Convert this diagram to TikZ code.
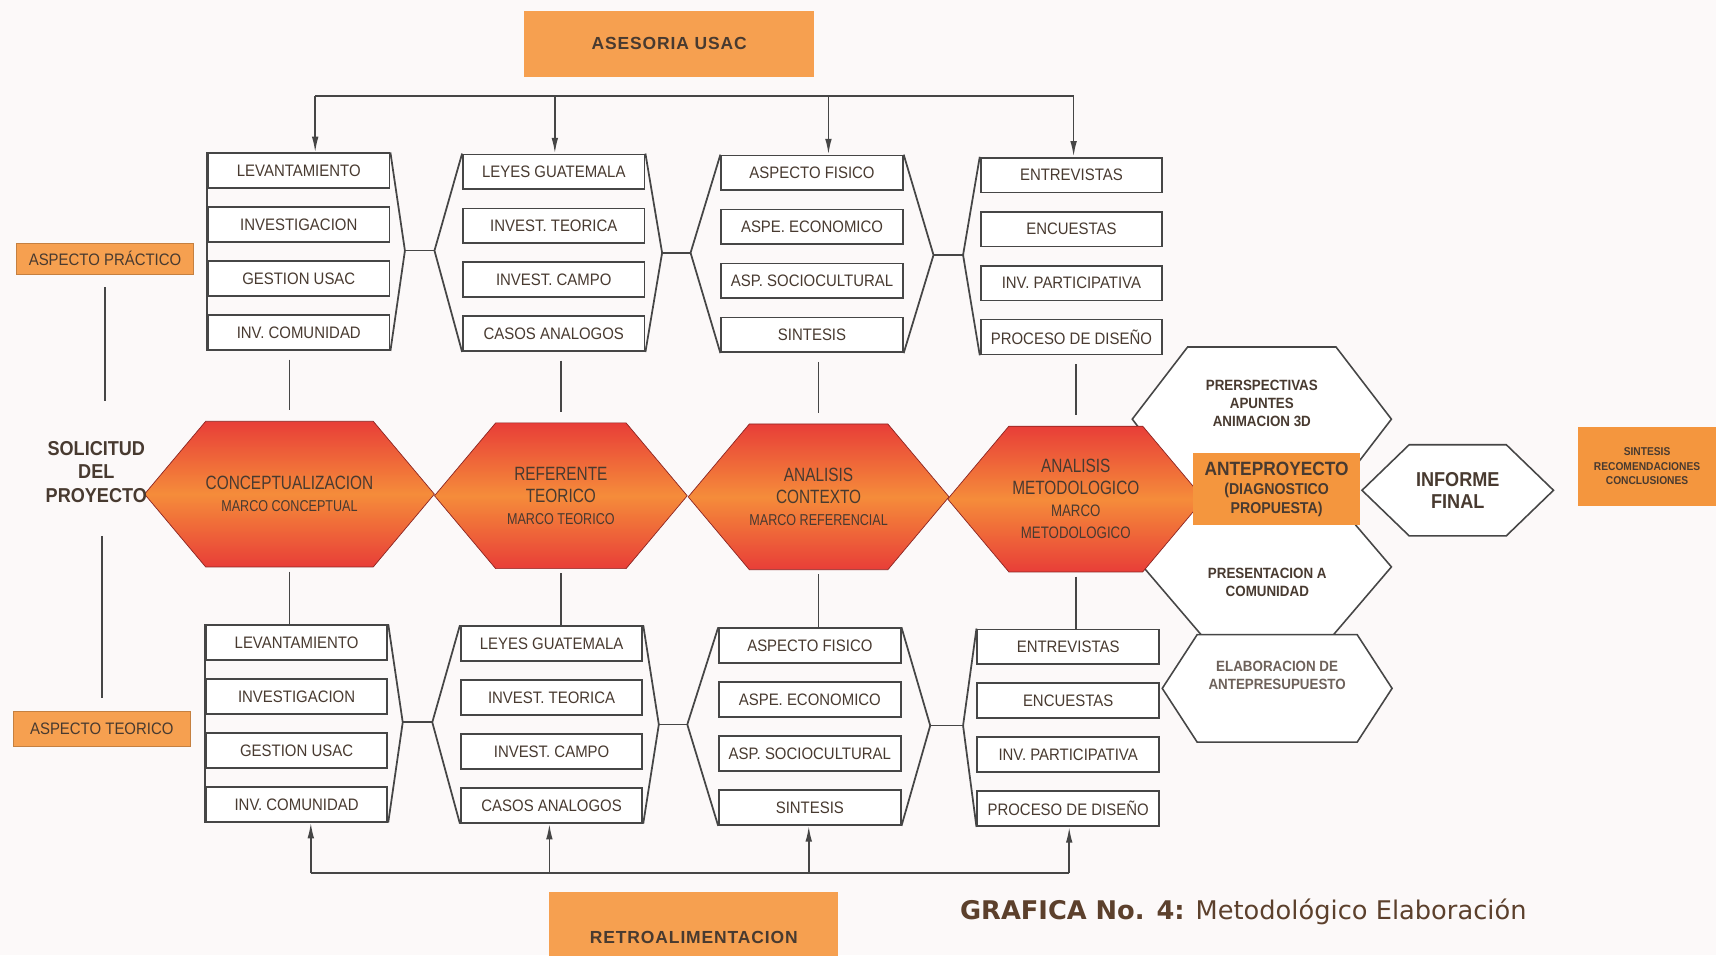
\documentclass[tikz,border=0pt]{standalone}
\usepackage{fontspec}
\setmainfont{Liberation Sans}
\newfontfamily\boxfont[FakeStretch=0.9]{Liberation Sans}
\newfontfamily\hexfont[FakeStretch=0.8]{Liberation Sans}
\newfontfamily\capfont{DejaVu Sans}
\usetikzlibrary{positioning,shapes.symbols,arrows.meta}

\definecolor{bgcol}{RGB}{252,249,249}
\definecolor{linegray}{RGB}{70,70,70}
\definecolor{txt}{RGB}{72,58,48}
\definecolor{captxt}{RGB}{92,64,44}
\definecolor{orangebox}{RGB}{246,160,80}
\definecolor{orangedeep}{RGB}{244,150,62}
\definecolor{hexred}{RGB}{232,62,56}
\definecolor{hexorange}{RGB}{245,140,58}

\begin{document}
\begin{tikzpicture}[x=0.022cm, y=-0.022cm, node distance=1.085cm,
  cell/.style = {draw=linegray, fill=white, line width=1pt, minimum width=3.65cm, minimum height=0.7cm, inner sep=0pt, text=txt, font=\boxfont\fontsize{9.5}{11}\selectfont},
  hexa/.style = {shape=signal, signal to=east and west, signal pointer angle=100, minimum height=2.93cm, inner sep=0pt, top color=hexred, bottom color=hexred, middle color=hexorange, draw=hexred!60!black, line width=0.4pt, align=center, text=txt, font=\hexfont\fontsize{11}{12.5}\selectfont},
  whex/.style = {shape=signal, signal to=east and west, draw=linegray, fill=white, line width=0.9pt, inner sep=0pt},
  wtext/.style = {align=center, text=txt, inner sep=0pt, font=\boxfont\bfseries\fontsize{8.5}{10.5}\selectfont},
  obox/.style = {fill=orangebox, inner sep=0pt, text=txt},
  wire/.style = {draw=linegray, line width=1pt},
  arr/.style = {-{Latex[length=9pt,width=3.8pt]}}]

\fill[bgcol] (0,0) rectangle (1568,873);
\useasboundingbox (0,0) rectangle (1568,873);

% asesoria
\node[obox, minimum width=5.83cm, minimum height=1.32cm, font=\bfseries\fontsize{10}{12}\selectfont] (ase) at (611.5,40) {\addfontfeature{LetterSpace=5}ASESORIA USAC};
\coordinate (a1) at (288,88);
\coordinate (a2) at (507,88);
\coordinate (a3) at (757,88);
\coordinate (a4) at (981,88);

% upper columns
\node[cell] (t11) at (273,156) {LEVANTAMIENTO};
\node[cell] (t12) [below of=t11] {INVESTIGACION};
\node[cell] (t13) [below of=t12] {GESTION USAC};
\node[cell] (t14) [below of=t13] {INV. COMUNIDAD};
\node[cell] (t21) at (506,157) {LEYES GUATEMALA};
\node[cell] (t22) [below of=t21] {INVEST. TEORICA};
\node[cell] (t23) [below of=t22] {INVEST. CAMPO};
\node[cell] (t24) [below of=t23] {CASOS ANALOGOS};
\node[cell] (t31) at (742,158) {ASPECTO FISICO};
\node[cell] (t32) [below of=t31] {ASPE. ECONOMICO};
\node[cell] (t33) [below of=t32] {ASP. SOCIOCULTURAL};
\node[cell] (t34) [below of=t33] {SINTESIS};
\node[cell] (t41) at (979,160) {ENTREVISTAS};
\node[cell] (t42) [below of=t41] {ENCUESTAS};
\node[cell] (t43) [below of=t42] {INV. PARTICIPATIVA};
\node[cell] (t44) [below of=t43] {PROCESO DE DISEÑO};

% lower columns
\node[cell] (b11) at (271,587) {LEVANTAMIENTO};
\node[cell] (b12) [below of=b11] {INVESTIGACION};
\node[cell] (b13) [below of=b12] {GESTION USAC};
\node[cell] (b14) [below of=b13] {INV. COMUNIDAD};
\node[cell] (b21) at (504,588) {LEYES GUATEMALA};
\node[cell] (b22) [below of=b21] {INVEST. TEORICA};
\node[cell] (b23) [below of=b22] {INVEST. CAMPO};
\node[cell] (b24) [below of=b23] {CASOS ANALOGOS};
\node[cell] (b31) at (740,590) {ASPECTO FISICO};
\node[cell] (b32) [below of=b31] {ASPE. ECONOMICO};
\node[cell] (b33) [below of=b32] {ASP. SOCIOCULTURAL};
\node[cell] (b34) [below of=b33] {SINTESIS};
\node[cell] (b41) at (976,591) {ENTREVISTAS};
\node[cell] (b42) [below of=b41] {ENCUESTAS};
\node[cell] (b43) [below of=b42] {INV. PARTICIPATIVA};
\node[cell] (b44) [below of=b43] {PROCESO DE DISEÑO};

% side hexagons
\node[whex, signal pointer angle=105, minimum width=5.21cm, minimum height=2.9cm,
  label={[wtext, yshift=9pt]center:PRERSPECTIVAS\\APUNTES\\ANIMACION 3D}] (pers) at (1153,383) {};
\node[whex, signal pointer angle=99, minimum width=4.99cm, minimum height=2.73cm,
  label={[wtext, yshift=-8.7pt]center:PRESENTACION A\\COMUNIDAD}] (pres) at (1158,518) {};
\node[whex, signal pointer angle=114, minimum width=4.62cm, minimum height=2.16cm,
  label={[wtext, yshift=7.5pt, text=txt!80]center:ELABORACION DE\\ANTEPRESUPUESTO}] (elab) at (1167,629) {};

% main hexagons
\node[hexa, minimum width=5.61cm] (h1) at (264.5,451.5) {CONCEPTUALIZACION\\{\fontsize{9}{11}\selectfont MARCO CONCEPTUAL}};
\node[hexa, minimum width=5.08cm] (h2) at (512.5,453) {REFERENTE\\TEORICO\\{\fontsize{9}{11}\selectfont MARCO TEORICO}};
\node[hexa, minimum width=5.19cm] (h3) at (748,454) {ANALISIS\\CONTEXTO\\{\fontsize{9}{11}\selectfont MARCO REFERENCIAL}};
\node[hexa, minimum width=5.15cm] (h4) at (983,456) {ANALISIS\\METODOLOGICO\\{\fontsize{9.5}{11}\selectfont MARCO}\\{\fontsize{9.5}{11}\selectfont METODOLOGICO}};

\node[obox, fill=orangedeep, minimum width=3.37cm, minimum height=1.45cm, align=center, font=\boxfont\bfseries\fontsize{9}{11}\selectfont] (ante) at (1166.5,447) {{\fontsize{11}{13}\selectfont ANTEPROYECTO}\\(DIAGNOSTICO\\PROPUESTA)};
\node[whex, signal pointer angle=88, minimum width=3.85cm, minimum height=1.83cm, align=center, text=txt, font=\boxfont\bfseries\fontsize{11.5}{12.5}\selectfont] (inf) at (1332,448) {INFORME\\FINAL};
\node[obox, fill=orangedeep, minimum width=2.77cm, minimum height=1.58cm, align=center, font=\boxfont\bfseries\fontsize{6.5}{8.5}\selectfont] (sint) at (1505,426) {SINTESIS\\RECOMENDACIONES\\CONCLUSIONES};

% left side
\node[obox, draw=orangebox!80!black, line width=0.4pt, minimum width=3.56cm, minimum height=0.64cm, font=\boxfont\fontsize{9.5}{11}\selectfont] (prac) at (96,236.5) {ASPECTO PRÁCTICO};
\node[align=center, inner sep=0pt, text=txt, font=\boxfont\bfseries\fontsize{11.5}{13.4}\selectfont] (sol) at (88,431) {SOLICITUD\\DEL\\PROYECTO};
\node[obox, draw=orangebox!80!black, line width=0.4pt, minimum width=3.56cm, minimum height=0.7cm, font=\boxfont\fontsize{9.5}{11}\selectfont] (teo) at (93,666) {ASPECTO TEORICO};
\draw[wire, shorten <=7pt, shorten >=23pt] (prac.south) -- (prac.south |- sol.north);
\draw[wire, shorten <=19pt, shorten >=7.5pt] (teo.north |- sol.south) -- (teo.north);

% retroalimentacion
\node[obox, minimum width=5.81cm, minimum height=1.85cm, font=\bfseries\fontsize{10}{12}\selectfont] (retro) at (634,857) {\addfontfeature{LetterSpace=5}RETROALIMENTACION};
\coordinate (r1) at (284,798);
\coordinate (r2) at (502,798);
\coordinate (r3) at (739,798);
\coordinate (r4) at (977,798);

% caption
\node[anchor=base west, inner sep=0pt, text=captxt, font=\capfont\fontsize{14.7}{18}\selectfont] (cap) at (877,840) {\textbf{GRAFICA No. 4:} Metodológico Elaboración};

% buses
\draw[wire] (a1) -- (a4);
\draw[wire, arr] (a1) -- (a1 |- t11.north);
\draw[wire, arr] (a2) -- (a2 |- t21.north);
\draw[wire, arr] (a3) -- (a3 |- t31.north);
\draw[wire, arr] (a4) -- (a4 |- t41.north);
\draw[wire] (r1) -- (r4);
\draw[wire, arr] (r1) -- (r1 |- b14.south);
\draw[wire, arr] (r2) -- (r2 |- b24.south);
\draw[wire, arr] (r3) -- (r3 |- b34.south);
\draw[wire, arr] (r4) -- (r4 |- b44.south);

% column brackets
\coordinate (f1a) at (370,229);
\coordinate (f1b) at (397,229);
\coordinate (f2a) at (605,231);
\coordinate (f2b) at (631,231);
\coordinate (f3a) at (853,233);
\coordinate (f3b) at (880,233);
\coordinate (g1a) at (368,660);
\coordinate (g1b) at (395,660);
\coordinate (g2a) at (602,662);
\coordinate (g2b) at (628,662);
\coordinate (g3a) at (850,663);
\coordinate (g3b) at (880,663);
\draw[wire] (t11.north west) -- (t14.south west);
\draw[wire] (b11.north west) -- (b14.south west);
\draw[wire] (t11.north east) -- (f1a) -- (t14.south east);
\draw[wire] (f1a) -- (f1b);
\draw[wire] (t21.north west) -- (f1b) -- (t24.south west);
\draw[wire] (t21.north east) -- (f2a) -- (t24.south east);
\draw[wire] (f2a) -- (f2b);
\draw[wire] (t31.north west) -- (f2b) -- (t34.south west);
\draw[wire] (t31.north east) -- (f3a) -- (t34.south east);
\draw[wire] (f3a) -- (f3b);
\draw[wire] (t41.north west) -- (f3b) -- (t44.south west);
\draw[wire] (b11.north east) -- (g1a) -- (b14.south east);
\draw[wire] (g1a) -- (g1b);
\draw[wire] (b21.north west) -- (g1b) -- (b24.south west);
\draw[wire] (b21.north east) -- (g2a) -- (b24.south east);
\draw[wire] (g2a) -- (g2b);
\draw[wire] (b31.north west) -- (g2b) -- (b34.south west);
\draw[wire] (b31.north east) -- (g3a) -- (b34.south east);
\draw[wire] (g3a) -- (g3b);
\draw[wire] (b41.north west) -- (g3b) -- (b44.south west);

% columns to hexagons
\draw[wire, shorten <=5pt, shorten >=6pt] (t14.south -| h1.north) -- (h1.north);
\draw[wire, shorten <=5pt, shorten >=6pt] (t24.south -| h2.north) -- (h2.north);
\draw[wire, shorten <=5pt, shorten >=6pt] (t34.south -| h3.north) -- (h3.north);
\draw[wire, shorten <=5pt, shorten >=6pt] (t44.south -| h4.north) -- (h4.north);
\draw[wire, shorten <=2.5pt] (h1.south) -- (h1.south |- b11.north);
\draw[wire, shorten <=2.5pt] (h2.south) -- (h2.south |- b21.north);
\draw[wire, shorten <=2.5pt] (h3.south) -- (h3.south |- b31.north);
\draw[wire, shorten <=2.5pt] (h4.south) -- (h4.south |- b41.north);
\end{tikzpicture}
\end{document}
